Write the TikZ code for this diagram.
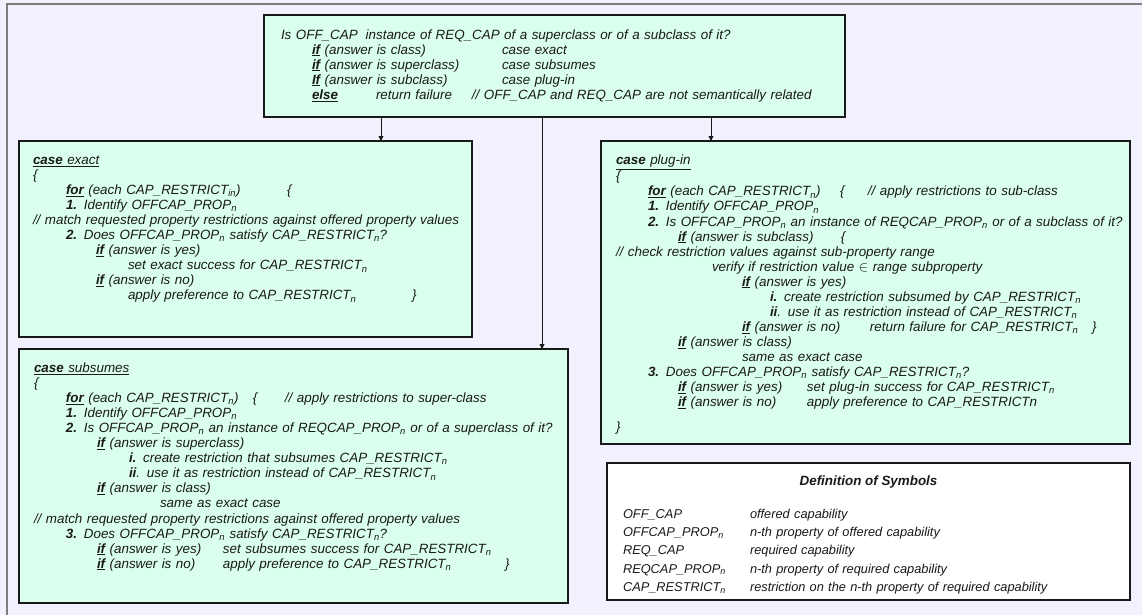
\documentclass[tikz,border=0pt]{standalone}
\usepackage{fontspec}
\setmainfont{Liberation Sans}
\usetikzlibrary{arrows.meta}
\definecolor{pagebg}{RGB}{242,242,255}
\definecolor{casefill}{RGB}{218,255,236}
\definecolor{framegray}{RGB}{125,125,125}
\definecolor{ink}{RGB}{25,25,25}
% keyword: bold, underlined
\newcommand\kw[1]{\underline{\textbf{#1}}}
% text placed at a fixed offset from the start of the line
\newcommand\At[2]{\rlap{\hspace*{#1pt}#2}}
\newcommand\subn[1]{\textsubscript{#1}}
\begin{document}
\begin{tikzpicture}[x=1pt,y=-1pt,
  casebox/.style={draw=ink, line width=1.2pt, fill=casefill, anchor=north west,
    inner sep=0pt, outer sep=0pt},
  defbox/.style={casebox, fill=white},
  code/.style={anchor=north west, inner sep=0pt, outer sep=0pt, text width=560pt,
    align=left, font=\fontsize{13.4}{15.05}\selectfont\itshape, text=ink},
  deftext/.style={code, font=\fontsize{12.8}{18.2}\selectfont\itshape},
  flow/.style={draw=ink, line width=0.9pt, -{Triangle[length=5pt,width=5pt]}}]

% page background and frame
\path[use as bounding box, fill=pagebg] (0,0) rectangle (1142,615);
\draw[framegray, line width=2pt] (7,620) -- (7,4) -- (1146,4);

% boxes
\node[casebox, minimum width=581pt, minimum height=102pt] (top) at (264,15) {};
\node[casebox, minimum width=453pt, minimum height=196pt] (exact) at (19,141) {};
\node[casebox, minimum width=549pt, minimum height=254pt] (subsumes) at (19,349) {};
\node[casebox, minimum width=529pt, minimum height=303pt] (plugin) at (601,141) {};
\node[defbox, minimum width=523pt, minimum height=137pt] (defs) at (607,463) {};

% connectors
\coordinate (c1) at (381,0);
\coordinate (c2) at (542,0);
\coordinate (c3) at (711,0);
\draw[flow] (top.south -| c1) -- (exact.north -| c1);
\draw[flow] (top.south -| c2) -- (subsumes.north -| c2);
\draw[flow] (top.south -| c3) -- (plugin.north -| c3);

% decision text
\node[code] (toptext) at (281,28.5) {%
\strut Is OFF\_CAP\hspace{8pt}instance of REQ\_CAP of a superclass or of a subclass of it?\\
\strut\At{31}{\kw{if} (answer is class)}\At{221}{case exact}\\
\strut\At{31}{\kw{if} (answer is superclass)}\At{221}{case subsumes}\\
\strut\At{31}{\kw{If} (answer is subclass)}\At{221}{case plug-in}\\
\strut\At{31}{\kw{else}}\At{95}{return failure}\At{191}{// OFF\_CAP and REQ\_CAP are not semantically related}};

% case exact
\node[code] (exacttext) at (33,154) {%
\strut\underline{\textbf{case} exact}\\
\strut\{\\
\strut\At{33}{\kw{for} (each CAP\_RESTRICT\subn{in})}\At{254}{\{}\\
\strut\At{33}{\textbf{1.} Identify OFFCAP\_PROP\subn{n}}\\
\strut// match requested property restrictions against offered property values\\
\strut\At{33}{\textbf{2.} Does OFFCAP\_PROP\subn{n} satisfy CAP\_RESTRICT\subn{n}?}\\
\strut\At{63}{\kw{if} (answer is yes)}\\
\strut\At{95}{set exact success for CAP\_RESTRICT\subn{n}}\\
\strut\At{63}{\kw{if} (answer is no)}\\
\strut\At{95}{apply preference to CAP\_RESTRICT\subn{n}}\At{379}{\}}};

% case subsumes
\node[code] (subsumestext) at (34,362) {%
\strut\underline{\textbf{case} subsumes}\\
\strut\{\\
\strut\At{32}{\kw{for} (each CAP\_RESTRICT\subn{n})}\At{219}{\{}\At{251}{// apply restrictions to super-class}\\
\strut\At{32}{\textbf{1.} Identify OFFCAP\_PROP\subn{n}}\\
\strut\At{32}{\textbf{2.} Is OFFCAP\_PROP\subn{n} an instance of REQCAP\_PROP\subn{n} or of a superclass of it?}\\
\strut\At{63}{\kw{if} (answer is superclass)}\\
\strut\At{95}{\textbf{i.} create restriction that subsumes CAP\_RESTRICT\subn{n}}\\
\strut\At{95}{\textbf{ii}. use it as restriction instead of CAP\_RESTRICT\subn{n}}\\
\strut\At{63}{\kw{if} (answer is class)}\\
\strut\At{126}{same as exact case}\\
\strut// match requested property restrictions against offered property values\\
\strut\At{32}{\textbf{3.} Does OFFCAP\_PROP\subn{n} satisfy CAP\_RESTRICT\subn{n}?}\\
\strut\At{63}{\kw{if} (answer is yes)}\At{189}{set subsumes success for CAP\_RESTRICT\subn{n}}\\
\strut\At{63}{\kw{if} (answer is no)}\At{189}{apply preference to CAP\_RESTRICT\subn{n}}\At{471}{\}}};

% case plug-in
\node[code] (plugintext) at (616,154) {%
\strut\underline{\textbf{case} plug-in}\\
\strut\{\\
\strut\At{32}{\kw{for} (each CAP\_RESTRICT\subn{n})}\At{224}{\{}\At{252}{// apply restrictions to sub-class}\\
\strut\At{32}{\textbf{1.} Identify OFFCAP\_PROP\subn{n}}\\
\strut\At{32}{\textbf{2.} Is OFFCAP\_PROP\subn{n} an instance of REQCAP\_PROP\subn{n} or of a subclass of it?}\\
\strut\At{62}{\kw{if} (answer is subclass)}\At{225}{\{}\\
\strut// check restriction values against sub-property range\\
\strut\At{96}{verify if restriction value $\in$ range subproperty}\\
\strut\At{126}{\kw{if} (answer is yes)}\\
\strut\At{154}{\textbf{i.} create restriction subsumed by CAP\_RESTRICT\subn{n}}\\
\strut\At{154}{\textbf{ii}. use it as restriction instead of CAP\_RESTRICT\subn{n}}\\
\strut\At{126}{\kw{if} (answer is no)}\At{254}{return failure for CAP\_RESTRICT\subn{n}}\At{476}{\}}\\
\strut\At{62}{\kw{if} (answer is class)}\\
\strut\At{126}{same as exact case}\\
\strut\At{32}{\textbf{3.} Does OFFCAP\_PROP\subn{n} satisfy CAP\_RESTRICT\subn{n}?}\\
\strut\At{62}{\kw{if} (answer is yes)}\At{191}{set plug-in success for CAP\_RESTRICT\subn{n}}\\
\strut\At{62}{\kw{if} (answer is no)}\At{191}{apply preference to CAP\_RESTRICTn}\\
\strut\\[-5pt]
\strut\}};

% symbol definitions
\node[anchor=base, inner sep=0pt, font=\fontsize{13.4}{15}\selectfont\bfseries\itshape, text=ink]
  (deftitle) at (868.5,485.5) {Definition of Symbols};
\node[deftext] (defrows) at (623,505.8) {%
\strut\At{0}{OFF\_CAP}\At{127}{offered capability}\\
\strut\At{0}{OFFCAP\_PROP\subn{n}}\At{127}{n-th property of offered capability}\\
\strut\At{0}{REQ\_CAP}\At{127}{required capability}\\
\strut\At{0}{REQCAP\_PROP\subn{n}}\At{127}{n-th property of required capability}\\
\strut\At{0}{CAP\_RESTRICT\subn{n}}\At{127}{restriction on the n-th property of required capability}};
\end{tikzpicture}
\end{document}
